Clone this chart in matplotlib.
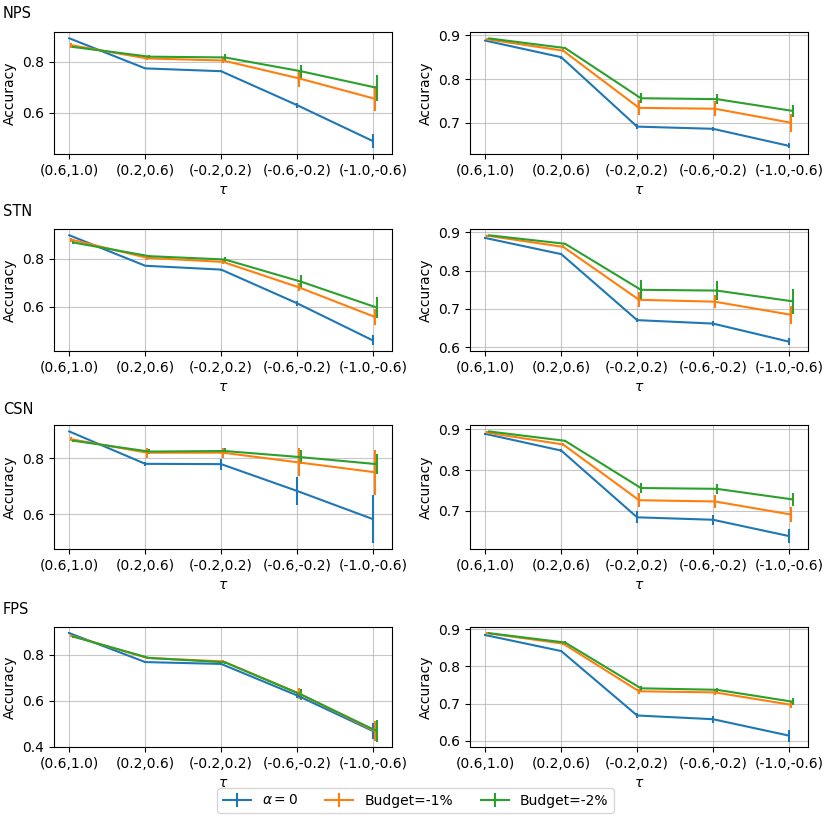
import matplotlib
matplotlib.use("Agg")
import matplotlib.pyplot as plt
import numpy as np

categories = ["(0.6,1.0)", "(0.2,0.6)", "(-0.2,0.2)", "(-0.6,-0.2)", "(-1.0,-0.6)"]
datasets = ["NPS", "STN", "CSN", "FPS"]
series_labels = [r"$\alpha=0$", "Budget=-1%", "Budget=-2%"]

# ---- NPS ----
nps_left_mean = [[0.892, 0.774, 0.763, 0.630, 0.489],
                 [0.865, 0.813, 0.805, 0.735, 0.655],
                 [0.858, 0.820, 0.817, 0.763, 0.698]]
nps_left_err = [[0.003, 0.003, 0.004, 0.010, 0.029],
                [0.010, 0.008, 0.010, 0.033, 0.048],
                [0.005, 0.006, 0.013, 0.026, 0.052]]
nps_right_mean = [[0.888, 0.850, 0.691, 0.686, 0.647],
                  [0.891, 0.865, 0.734, 0.732, 0.700],
                  [0.893, 0.871, 0.756, 0.754, 0.727]]
nps_right_err = [[0.002, 0.003, 0.005, 0.005, 0.006],
                 [0.003, 0.004, 0.017, 0.017, 0.021],
                 [0.002, 0.003, 0.012, 0.012, 0.014]]
# ---- STN ----
stn_left_mean = [[0.898, 0.771, 0.755, 0.615, 0.460],
                 [0.880, 0.804, 0.787, 0.681, 0.558],
                 [0.868, 0.811, 0.797, 0.705, 0.597]]
stn_left_err = [[0.003, 0.003, 0.004, 0.010, 0.021],
                [0.008, 0.007, 0.008, 0.017, 0.033],
                [0.005, 0.006, 0.010, 0.028, 0.045]]
stn_right_mean = [[0.885, 0.843, 0.671, 0.662, 0.615],
                  [0.891, 0.862, 0.724, 0.719, 0.685],
                  [0.892, 0.870, 0.750, 0.748, 0.720]]
stn_right_err = [[0.002, 0.003, 0.005, 0.006, 0.010],
                 [0.003, 0.004, 0.020, 0.017, 0.024],
                 [0.002, 0.003, 0.026, 0.025, 0.032]]
# ---- CSN ----
csn_left_mean = [[0.896, 0.780, 0.779, 0.683, 0.582],
                 [0.868, 0.820, 0.820, 0.785, 0.750],
                 [0.863, 0.824, 0.826, 0.804, 0.779]]
csn_left_err = [[0.003, 0.007, 0.020, 0.051, 0.087],
                [0.007, 0.018, 0.018, 0.050, 0.081],
                [0.005, 0.008, 0.012, 0.024, 0.037]]
csn_right_mean = [[0.889, 0.848, 0.684, 0.678, 0.638],
                  [0.892, 0.863, 0.726, 0.723, 0.691],
                  [0.895, 0.872, 0.756, 0.754, 0.728]]
csn_right_err = [[0.002, 0.004, 0.015, 0.012, 0.018],
                 [0.003, 0.004, 0.017, 0.016, 0.019],
                 [0.002, 0.003, 0.013, 0.013, 0.015]]
# ---- FPS ----
fps_left_mean = [[0.894, 0.768, 0.760, 0.623, 0.468],
                 [0.883, 0.786, 0.771, 0.632, 0.468],
                 [0.879, 0.786, 0.767, 0.627, 0.468]]
fps_left_err = [[0.003, 0.003, 0.004, 0.010, 0.035],
                [0.005, 0.006, 0.007, 0.025, 0.045],
                [0.005, 0.006, 0.007, 0.025, 0.046]]
fps_right_mean = [[0.884, 0.841, 0.668, 0.658, 0.614],
                  [0.889, 0.861, 0.733, 0.730, 0.697],
                  [0.889, 0.864, 0.741, 0.737, 0.705]]
fps_right_err = [[0.002, 0.003, 0.008, 0.009, 0.016],
                 [0.002, 0.003, 0.006, 0.006, 0.008],
                 [0.002, 0.003, 0.006, 0.006, 0.010]]

panels = [
    (nps_left_mean, nps_left_err, nps_right_mean, nps_right_err),
    (stn_left_mean, stn_left_err, stn_right_mean, stn_right_err),
    (csn_left_mean, csn_left_err, csn_right_mean, csn_right_err),
    (fps_left_mean, fps_left_err, fps_right_mean, fps_right_err),
]

colors = ["#1f77b4", "#ff7f0e", "#2ca02c"]
offsets = [0.0, 0.025, 0.05]

W, H = 831, 825
fig = plt.figure(figsize=(W / 100, H / 100), dpi=100)

col_lr = [(54, 392), (470, 808)]
row_tb = [(32, 154), (229, 351), (425, 549), (627, 747)]
label_y = [13, 212, 409, 609]

x = np.arange(len(categories))
handles = None
for r, (lm, le, rm, re) in enumerate(panels):
    for c, (means, errs) in enumerate([(lm, le), (rm, re)]):
        l, rr = col_lr[c]
        t, b = row_tb[r]
        ax = fig.add_axes([l / W, 1 - b / H, (rr - l) / W, (b - t) / H])
        hs = []
        for s in range(3):
            h = ax.errorbar(x + offsets[s], means[s], yerr=errs[s], color=colors[s],
                            label=series_labels[s], linewidth=1.5, elinewidth=1.5)
            hs.append(h)
        if handles is None:
            handles = hs
        ax.set_xticks(x)
        ax.set_xticklabels(categories)
        ax.grid(True, color="#b0b0b0", linewidth=0.8, alpha=0.7)
        ax.set_ylabel("Accuracy")
        ax.set_xlabel(r"$\tau$")
    fig.text(3 / W, 1 - label_y[r] / H, datasets[r], fontsize=10.5, va="center", ha="left")

fig.legend(handles, series_labels, loc="lower center", ncol=3,
           bbox_to_anchor=(0.5, 5 / H), frameon=True)

fig.savefig("out.png", dpi=100)
